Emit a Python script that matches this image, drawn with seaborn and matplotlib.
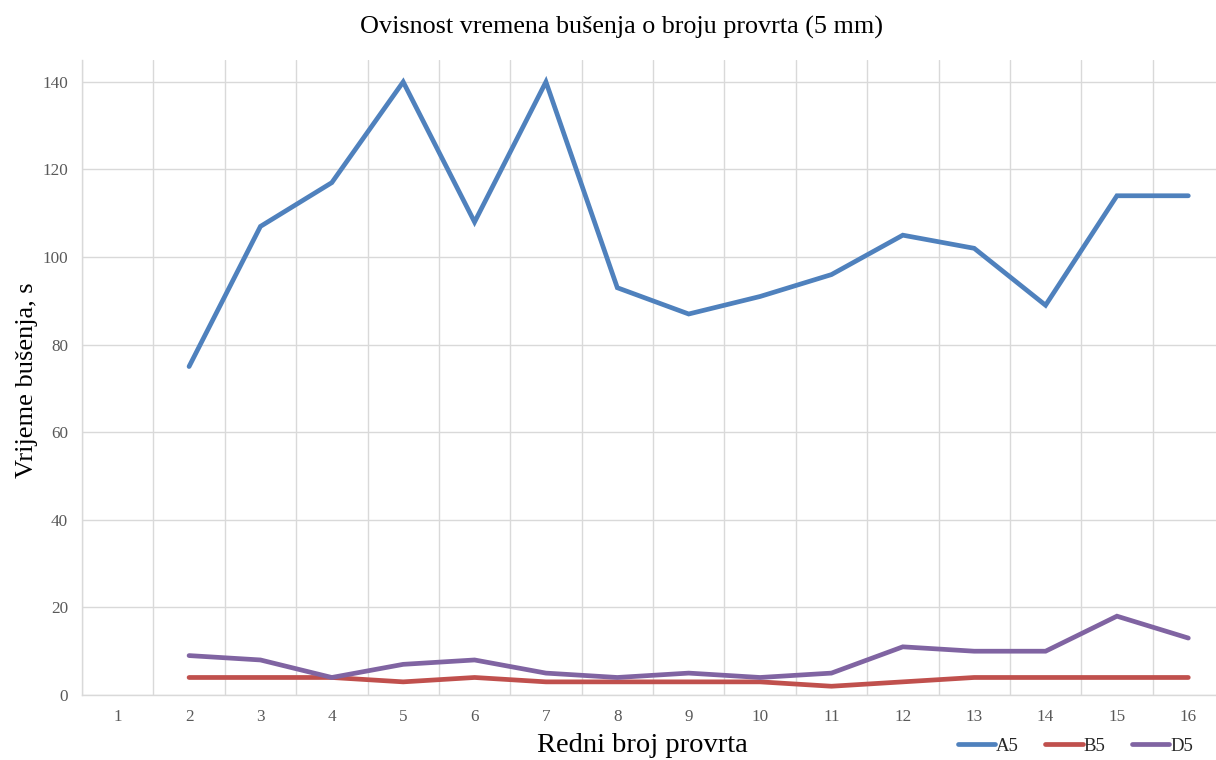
import matplotlib
matplotlib.use("Agg")
import matplotlib.pyplot as plt
import numpy as np
import pandas as pd
import seaborn as sns

# Drill hole number (categories) and drilling time per tool, in seconds
holes = list(range(1, 17))
a5 = [None, 75, 107, 117, 140, 108, 140, 93, 87, 91, 96, 105, 102, 89, 114, 114]
b5 = [None, 4, 4, 4, 3, 4, 3, 3, 3, 3, 2, 3, 4, 4, 4, 4]
d5 = [None, 9, 8, 4, 7, 8, 5, 4, 5, 4, 5, 11, 10, 10, 18, 13]
series_names = ["A5", "B5", "D5"]
colors = ["#4F81BD", "#C0504D", "#8064A2"]
y_ticks = [0, 20, 40, 60, 80, 100, 120, 140]

frames = []
for name, vals in zip(series_names, [a5, b5, d5]):
    frames.append(pd.DataFrame({"hole": holes, "time": vals, "series": name}))
df = pd.concat(frames, ignore_index=True).dropna()

sns.set_theme(style="white")
plt.rcParams["font.family"] = ["Liberation Serif", "DejaVu Serif"]

fig = plt.figure(figsize=(12.16, 7.6), dpi=100)
ax = fig.add_axes([82 / 1216, 1 - 695 / 760, 1142 / 1216, 635 / 760])

sns.lineplot(data=df, x="hole", y="time", hue="series", palette=colors,
             hue_order=series_names, linewidth=3.4, ax=ax, legend=False,
             solid_capstyle="round", solid_joinstyle="miter")

ax.set_xlim(0.5, 16.5)
ax.set_ylim(0, 145)
ax.set_xticks(holes)
ax.set_xticklabels([str(h) for h in holes])
ax.set_xticks(np.arange(0.5, 17, 1), minor=True)
ax.set_yticks(y_ticks)
ax.tick_params(axis="both", which="both", length=0, labelsize=12.3,
               labelcolor="#595959")
ax.tick_params(axis="x", pad=10)
ax.tick_params(axis="y", pad=10)

ax.grid(False)
ax.yaxis.grid(True, which="major", color="#D9D9D9", linewidth=1.0)
ax.xaxis.grid(True, which="minor", color="#D9D9D9", linewidth=1.0)
ax.set_axisbelow(True)
for side in ["top", "right"]:
    ax.spines[side].set_visible(False)
ax.spines["left"].set_color("#D9D9D9")
ax.spines["bottom"].set_color("#D9D9D9")
ax.spines["left"].set_linewidth(1.0)
ax.spines["bottom"].set_linewidth(1.0)

ax.set_xlabel("")
ax.set_ylabel("")
fig.text(621 / 1216, 1 - 27 / 760, "Ovisnost vremena bušenja o broju provrta (5 mm)",
         ha="center", va="center", fontsize=18.8, color="#000000")
fig.text(642 / 1216, 1 - 745 / 760, "Redni broj provrta",
         ha="center", va="center", fontsize=20.5, color="#000000")
fig.text(27 / 1216, 1 - 380 / 760, "Vrijeme bušenja, s", rotation=90,
         ha="center", va="center", fontsize=19, color="#000000")

handles = [plt.Line2D([], [], color=c, linewidth=3.4, solid_capstyle="round")
           for c in colors]
fig.legend(handles, series_names, loc="center right",
           bbox_to_anchor=(1193 / 1216, 1 - 746 / 760), ncol=3, frameon=False,
           fontsize=13.5, handlelength=2.0, handletextpad=0.05,
           columnspacing=1.4, borderaxespad=0, borderpad=0)

fig.savefig("out.png", dpi=100)
